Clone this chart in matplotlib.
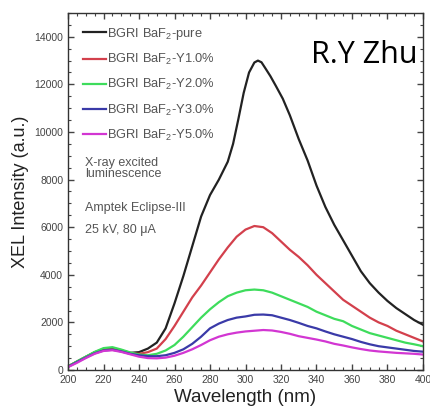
import matplotlib
matplotlib.use("Agg")
import matplotlib.pyplot as plt
from matplotlib.ticker import MultipleLocator

plt.rcParams['font.family'] = ['Liberation Sans', 'DejaVu Sans']
plt.rcParams['mathtext.fontset'] = 'custom'
plt.rcParams['mathtext.rm'] = 'Liberation Sans'
plt.rcParams['mathtext.it'] = 'Liberation Sans:italic'

wavelength = [200, 205, 210, 215, 220, 225, 230, 235, 240, 245, 250, 255, 260, 265, 270,
              275, 280, 285, 290, 293, 296, 299, 302, 305, 307, 309, 311, 314, 317, 321,
              325, 330, 335, 340, 345, 350, 355, 360, 365, 370, 375, 380, 385, 390, 395, 400]

pure = [150, 350, 550, 750, 880, 920, 830, 720, 750, 900, 1150, 1750, 2800, 3950, 5200,
        6450, 7350, 8000, 8750, 9500, 10550, 11650, 12500, 12920, 13000, 12930, 12700, 12350, 11950, 11400,
        10700, 9700, 8800, 7750, 6850, 6100, 5450, 4800, 4150, 3650, 3250, 2900, 2600, 2350, 2100, 1900]

wl5 = [200, 205, 210, 215, 220, 225, 230, 235, 240, 245, 250, 255, 260, 265, 270,
       275, 280, 285, 290, 295, 300, 305, 310, 315, 320, 325, 330, 335, 340, 345,
       350, 355, 360, 365, 370, 375, 380, 385, 390, 395, 400]

y1 = [150, 350, 550, 720, 850, 870, 800, 700, 680, 750, 900, 1300, 1850, 2450, 3050,
      3550, 4100, 4650, 5150, 5600, 5900, 6050, 6000, 5750, 5400, 5050, 4750, 4400, 4000, 3650,
      3300, 2950, 2700, 2450, 2200, 2000, 1850, 1650, 1500, 1350, 1200]

y2 = [150, 360, 560, 760, 920, 960, 860, 740, 650, 620, 680, 820, 1050, 1400, 1800,
      2200, 2550, 2850, 3100, 3250, 3350, 3380, 3350, 3250, 3100, 2950, 2800, 2650, 2450, 2300,
      2150, 2050, 1850, 1700, 1550, 1450, 1350, 1250, 1150, 1080, 1000]

y3 = [130, 330, 520, 700, 820, 850, 780, 680, 620, 580, 580, 620, 720, 870, 1100,
      1400, 1750, 1950, 2100, 2200, 2250, 2320, 2330, 2300, 2200, 2100, 1980, 1850, 1750, 1620,
      1500, 1400, 1300, 1180, 1080, 1000, 950, 900, 850, 800, 770]

y5 = [120, 300, 500, 680, 800, 830, 760, 660, 560, 500, 490, 520, 600, 720, 870,
      1050, 1250, 1400, 1500, 1570, 1620, 1650, 1680, 1660, 1600, 1520, 1420, 1350, 1280, 1200,
      1100, 1030, 950, 880, 820, 780, 750, 720, 700, 680, 650]

labels = ['BGRI BaF$_2$-pure', 'BGRI BaF$_2$-Y1.0%', 'BGRI BaF$_2$-Y2.0%',
          'BGRI BaF$_2$-Y3.0%', 'BGRI BaF$_2$-Y5.0%']
colors = ['#222222', '#d3404c', '#3edc5c', '#3a3aa8', '#d236d2']

fig = plt.figure(figsize=(4.31, 4.11), dpi=100)
ax = fig.add_axes([68/431, 1-370/411, 355/431, 357/411])

series = [(wavelength, pure), (wl5, y1), (wl5, y2), (wl5, y3), (wl5, y5)]
for (x, y), c, lab in zip(series, colors, labels):
    ax.plot(x, y, color=c, lw=1.6, label=lab)

ax.set_xlim(200, 400)
ax.set_ylim(0, 15000)
ax.xaxis.set_major_locator(MultipleLocator(20))
ax.xaxis.set_minor_locator(MultipleLocator(5))
ax.yaxis.set_major_locator(MultipleLocator(2000))
ax.yaxis.set_minor_locator(MultipleLocator(500))
ax.set_yticks(range(0, 14001, 2000))
ax.tick_params(which='both', direction='in', top=True, right=True, colors='#444444',
               labelsize=7.5, labelcolor='#444444')
ax.tick_params(which='major', length=4, width=1)
ax.tick_params(which='minor', length=2, width=0.8)
for s in ax.spines.values():
    s.set_color('#333333')
    s.set_linewidth(1.0)

ax.set_xlabel('Wavelength (nm)', fontsize=13.5, color='#222222', labelpad=3)
ax.set_ylabel('XEL Intensity (a.u.)', fontsize=13, color='#222222', labelpad=4)

leg = ax.legend(loc='upper left', bbox_to_anchor=(15/355, 1-13/357), frameon=False,
                fontsize=9.3, handlelength=1.75, handletextpad=0.1, labelspacing=0.78,
                borderaxespad=0, borderpad=0)
for t in leg.get_texts():
    t.set_color('#555555')

tk = dict(transform=ax.transAxes, fontsize=9, color='#555555', ha='left', va='center')
ax.text(17/355, (370-163)/357, 'X-ray excited', **tk)
ax.text(17/355, (370-174)/357, 'luminescence', **tk)
ax.text(17/355, (370-208)/357, 'Amptek Eclipse-III', **tk)
ax.text(17/355, (370-230)/357, '25 kV, 80 μA', **tk)

ax.text((418-68)/355, (370-63)/357, 'R.Y Zhu', transform=ax.transAxes, fontsize=22,
        family=['Open Sans', 'DejaVu Sans'], color='black', ha='right', va='baseline')

fig.savefig('out.png', dpi=100)
